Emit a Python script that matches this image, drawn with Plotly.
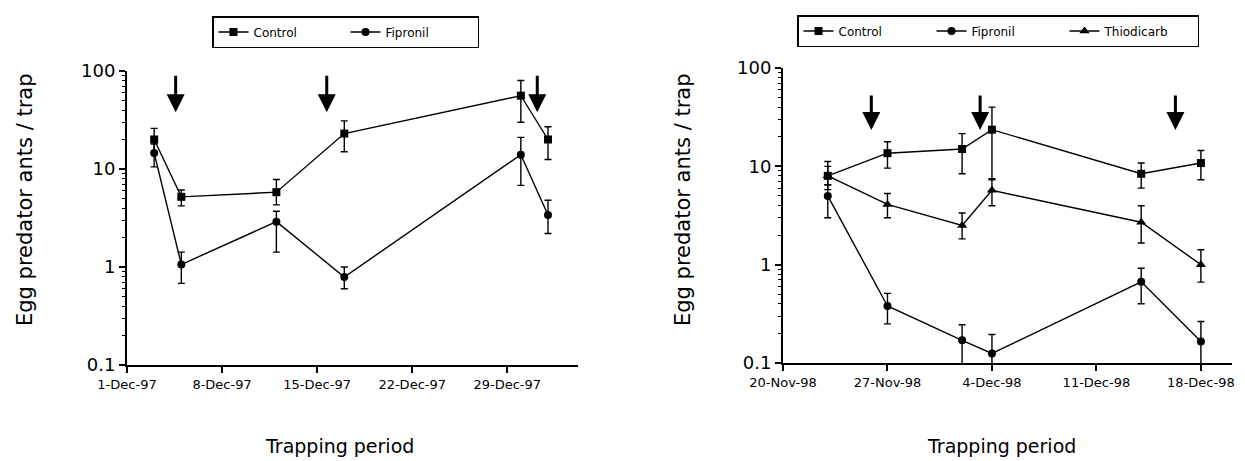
import plotly.graph_objects as go

# ---------------- data ----------------
# 1997 trial (left panel)
dates_97 = ["1997-12-03", "1997-12-05", "1997-12-12", "1997-12-17", "1997-12-30", "1998-01-01"]
control_97 = [20, 5.2, 5.8, 23, 56, 20]
control_97_hi = [26, 6.1, 7.8, 31, 80, 27]
control_97_lo = [15, 4.2, 4.3, 15, 30, 12.5]
fipronil_97 = [14.6, 1.06, 2.9, 0.79, 14, 3.4]
fipronil_97_hi = [18, 1.42, 3.7, 1.0, 21, 4.8]
fipronil_97_lo = [10.5, 0.68, 1.42, 0.6, 6.8, 2.2]
applications_97 = ["1997-12-04 14:00", "1997-12-15 17:00", "1997-12-31 05:00"]
xticks_97 = ["1997-12-01", "1997-12-08", "1997-12-15", "1997-12-22", "1997-12-29"]
xticklabels_97 = ["1-Dec-97", "8-Dec-97", "15-Dec-97", "22-Dec-97", "29-Dec-97"]

# 1998 trial (right panel)
dates_98 = ["1998-11-23", "1998-11-27", "1998-12-02", "1998-12-04", "1998-12-14", "1998-12-18"]
control_98 = [8, 13.6, 15, 23.6, 8.4, 10.8]
control_98_hi = [11.2, 17.8, 21.5, 40, 10.8, 14.5]
control_98_lo = [5.8, 9.6, 8.4, 7.5, 6.0, 7.3]
fipronil_98 = [5, 0.38, 0.17, 0.125, 0.67, 0.165]
fipronil_98_hi = [6.5, 0.51, 0.245, 0.195, 0.92, 0.264]
fipronil_98_lo = [3.0, 0.25, 0.095, 0.08, 0.40, 0.085]
thiodicarb_98 = [8, 4.1, 2.5, 5.7, 2.7, 1.0]
thiodicarb_98_hi = [10, 5.3, 3.35, 7.3, 3.97, 1.42]
thiodicarb_98_lo = [6.5, 3.0, 1.83, 3.97, 1.66, 0.665]
applications_98 = ["1998-11-25 22:00", "1998-12-03 05:00", "1998-12-16 07:00"]
xticks_98 = ["1998-11-20", "1998-11-27", "1998-12-04", "1998-12-11", "1998-12-18"]
xticklabels_98 = ["20-Nov-98", "27-Nov-98", "4-Dec-98", "11-Dec-98", "18-Dec-98"]

yticks = [0.1, 1, 10, 100]
yticklabels = ["0.1", "1", "10", "100"]
ytitle = "Egg predator ants / trap"
xtitle = "Trapping period"

# ---------------- figure ----------------
W, H = 1245, 461
OFF = 8  # page body margin: screen px = figure px + OFF
FONT = "DejaVu Sans, Verdana, sans-serif"
fig = go.Figure()


def px_x(sx):
    return (sx - OFF) / W


def px_y(sy):
    return 1 - (sy - OFF) / H


def err(vals, hi, lo):
    return dict(type="data", symmetric=False,
                array=[h - v for v, h in zip(vals, hi)],
                arrayminus=[v - l for v, l in zip(vals, lo)],
                color="black", thickness=1.4, width=3.5)


def add_series(x, y, hi, lo, name, symbol, xa, ya, legend, size=8):
    fig.add_trace(go.Scatter(
        x=x, y=y, name=name, mode="lines+markers",
        line=dict(color="black", width=1.4),
        marker=dict(symbol=symbol, size=size, color="black"),
        error_y=err(y, hi, lo), xaxis=xa, yaxis=ya, legend=legend))


add_series(dates_97, control_97, control_97_hi, control_97_lo, "Control", "square", "x", "y", "legend")
add_series(dates_97, fipronil_97, fipronil_97_hi, fipronil_97_lo, "Fipronil", "circle", "x", "y", "legend")
add_series(dates_98, control_98, control_98_hi, control_98_lo, "Control", "square", "x2", "y2", "legend2")
add_series(dates_98, fipronil_98, fipronil_98_hi, fipronil_98_lo, "Fipronil", "circle", "x2", "y2", "legend2")
add_series(dates_98, thiodicarb_98, thiodicarb_98_hi, thiodicarb_98_lo, "Thiodicarb", "triangle-up", "x2", "y2", "legend2", size=9)

minor_vals = [k * 10 ** e for e in (-1, 0, 1) for k in range(2, 10)]

yaxis_common = dict(
    type="log", range=[-1, 2], tickmode="array", tickvals=yticks, ticktext=yticklabels,
    ticks="outside", ticklen=6, tickwidth=1.5, tickcolor="black", automargin=False,
    showline=True, linecolor="black", linewidth=2, showgrid=False, zeroline=False,
    tickfont=dict(family=FONT, size=18, color="black"),
    minor=dict(tickmode="array", tickvals=minor_vals, ticks="outside", ticklen=3,
               tickcolor="black", tickwidth=1, showgrid=False),
)
xaxis_common = dict(
    type="date", tickmode="array", ticks="outside", ticklen=6, tickwidth=1.5, tickcolor="black",
    showline=True, linecolor="black", linewidth=2, showgrid=False, zeroline=False, automargin=False,
    tickfont=dict(family=FONT, size=13, color="black"),
)

legend_common = dict(orientation="h", xanchor="center", yanchor="top",
                     bordercolor="black", borderwidth=1.5, bgcolor="white",
                     font=dict(family=FONT, size=12, color="black"))

fig.update_layout(
    width=W, height=H, margin=dict(l=0, r=0, t=0, b=0, autoexpand=False),
    paper_bgcolor="white", plot_bgcolor="white",
    font=dict(family=FONT, color="black"),
    xaxis=dict(xaxis_common, domain=[px_x(127), px_x(578)], range=["1997-12-01", "1998-01-03 05:00"],
               tickvals=xticks_97, ticktext=xticklabels_97, anchor="y"),
    yaxis=dict(yaxis_common, domain=[px_y(365), px_y(71)], anchor="x"),
    xaxis2=dict(xaxis_common, domain=[px_x(783), px_x(1232)], range=["1998-11-20", "1998-12-20 02:00"],
                tickvals=xticks_98, ticktext=xticklabels_98, anchor="y2"),
    yaxis2=dict(yaxis_common, domain=[px_y(363), px_y(68)], anchor="x2"),
    legend=dict(legend_common, x=px_x(345.5), y=px_y(16), entrywidth=87),
    legend2=dict(legend_common, x=px_x(998), y=px_y(15), entrywidth=88),
    showlegend=True,
)

# application arrows
for d in applications_97:
    fig.add_annotation(x=d, y=1.58, xref="x", yref="y", text="", showarrow=True,
                       arrowhead=2, arrowsize=1.2, arrowwidth=3, arrowcolor="black", ax=0, ay=-38)
for d in applications_98:
    fig.add_annotation(x=d, y=1.37, xref="x2", yref="y2", text="", showarrow=True,
                       arrowhead=2, arrowsize=1.2, arrowwidth=3, arrowcolor="black", ax=0, ay=-36)

# axis titles
for xc in (25, 683):
    fig.add_annotation(x=px_x(xc), y=px_y(200), xref="paper", yref="paper", text=ytitle,
                       textangle=-90, showarrow=False, font=dict(family=FONT, size=21, color="black"),
                       xanchor="center", yanchor="middle")
for xl in (263, 925):
    fig.add_annotation(x=px_x(xl), y=px_y(433), xref="paper", yref="paper", text=xtitle,
                       showarrow=False, font=dict(family=FONT, size=19, color="black"),
                       xanchor="left", yanchor="top")

fig.write_html("out.html")
